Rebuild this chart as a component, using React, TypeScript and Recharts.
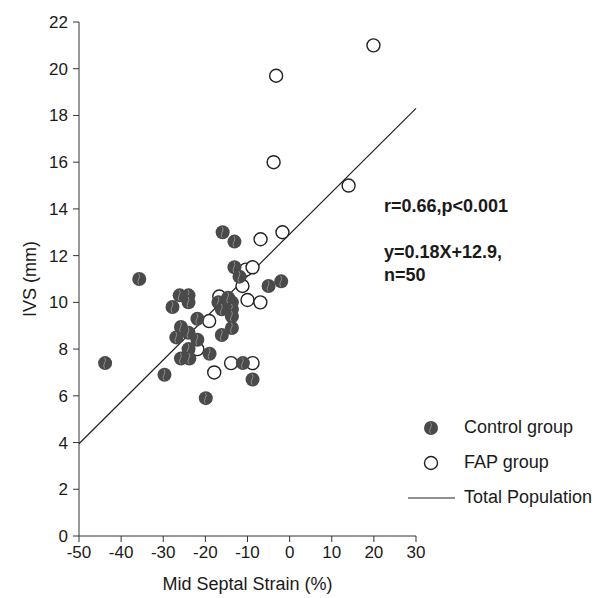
import { ScatterChart, Scatter, XAxis, YAxis } from 'recharts';

const X_TICKS = [-50, -40, -30, -20, -10, 0, 10, 20, 30];
const Y_TICKS = [0, 2, 4, 6, 8, 10, 12, 14, 16, 18, 20, 22];

// Control group (filled markers)
const controlStrain = [
  -15.9, -13.1, -35.7, -13.1, -11.9, -5.0, -2.0, -26.1, -24.0, -24.0, -27.8,
  -16.9, -13.7, -13.7, -16.1, -13.7, -21.9, -25.8, -13.7, -24.0, -26.9, -21.9,
  -16.1, -24.0, -19.0, -25.8, -23.8, -43.8, -11.1, -29.7, -8.8, -19.9, -14.6,
];
const controlIvs = [
  13.0, 12.6, 11.0, 11.5, 11.1, 10.7, 10.9, 10.3, 10.3, 10.0, 9.8,
  10.0, 10.0, 9.7, 9.7, 9.4, 9.3, 8.95, 8.9, 8.7, 8.5, 8.4,
  8.6, 8.0, 7.8, 7.6, 7.6, 7.4, 7.4, 6.9, 6.7, 5.9, 10.2,
];

// FAP group (open markers)
const fapStrain = [
  19.9, -3.2, -3.8, 14.0, -1.7, -6.9, -10.4, -8.8, -11.2, -10.0, -6.95,
  -16.7, -19.1, -21.9, -13.9, -8.8, -17.9,
];
const fapIvs = [
  21.0, 19.7, 16.0, 15.0, 13.0, 12.7, 11.4, 11.5, 10.7, 10.1, 10.0,
  10.25, 9.2, 8.0, 7.4, 7.4, 7.0,
];

// Total population fit line end points
const fitStrain = [-50, 30];
const fitIvs = [3.95, 18.3];

const controlData = controlStrain.map((x, i) => ({ x, y: controlIvs[i] }));
const fapData = fapStrain.map((x, i) => ({ x, y: fapIvs[i] }));
const fitData = fitStrain.map((x, i) => ({ x, y: fitIvs[i] }));

const FONT = '"Liberation Sans", Arial, sans-serif';
const TEXT = '#1a1a1a';

const ControlDot = (p: any) => (
  <g>
    <circle cx={p.cx} cy={p.cy} r={7} fill="#4a4a4a" />
    <path
      d={`M${p.cx - 0.5} ${p.cy - 5.5} q2 2.7 0 5.5 q-2 2.7 0 5.5`}
      stroke="#8c8c8c"
      strokeWidth={1}
      fill="none"
    />
  </g>
);

const FapDot = (p: any) => (
  <circle cx={p.cx} cy={p.cy} r={6.5} fill="#fff" stroke="#222" strokeWidth={1.4} />
);

const LegendBox = () => (
  <div style={{ position: 'absolute', left: 400, top: 409, width: 192, height: 100, fontFamily: FONT, fontSize: 18, color: TEXT }}>
    <div style={{ position: 'absolute', left: 0, top: 0, width: 192, height: 22 }}>
      <svg width={60} height={22} style={{ position: 'absolute', left: 0, top: 0 }}>
        <ControlDot cx={23} cy={11} />
      </svg>
      <span style={{ position: 'absolute', left: 56, top: 0 }}>Control group</span>
    </div>
    <div style={{ position: 'absolute', left: 0, top: 35, width: 192, height: 22 }}>
      <svg width={60} height={22} style={{ position: 'absolute', left: 0, top: 0 }}>
        <FapDot cx={23} cy={11} />
      </svg>
      <span style={{ position: 'absolute', left: 56, top: 0 }}>FAP group</span>
    </div>
    <div style={{ position: 'absolute', left: 0, top: 70, width: 192, height: 22 }}>
      <svg width={60} height={22} style={{ position: 'absolute', left: 0, top: 0 }}>
        <line x1={0} x2={47} y1={11} y2={11} stroke="#222" strokeWidth={1.2} />
      </svg>
      <span style={{ position: 'absolute', left: 56, top: 0 }}>Total Population</span>
    </div>
  </div>
);

export default function App() {
  return (
    <div style={{ position: 'relative', width: 592, height: 590 }}>
      <ScatterChart width={592} height={590} margin={{ top: 14, right: 184, bottom: 0, left: 0 }}>
        <XAxis
          type="number"
          dataKey="x"
          domain={[-50, 30]}
          ticks={X_TICKS}
          height={62}
          stroke="#333"
          tickSize={6}
          tickMargin={4}
          tick={{ fontSize: 17, fill: TEXT, fontFamily: FONT }}
          label={{ value: 'Mid Septal Strain (%)', position: 'insideBottom', offset: 8, fontSize: 18, fill: TEXT, fontFamily: FONT }}
        />
        <YAxis
          type="number"
          dataKey="y"
          domain={[0, 22]}
          ticks={Y_TICKS}
          width={71}
          stroke="#333"
          tickSize={6}
          tickMargin={5}
          tick={{ fontSize: 17, fill: TEXT, fontFamily: FONT }}
          label={{
            content: ({ viewBox }: any) => {
              const cy = viewBox.y + viewBox.height / 2;
              return (
                <text
                  x={22}
                  y={cy}
                  transform={`rotate(-90, 22, ${cy})`}
                  textAnchor="middle"
                  dominantBaseline="central"
                  fontSize={18}
                  fill={TEXT}
                  fontFamily={FONT}
                >
                  IVS (mm)
                </text>
              );
            },
          }}
        />
        <Scatter
          name="Total Population"
          data={fitData}
          line={{ stroke: '#222', strokeWidth: 1.2 }}
          shape={() => <g />}
          isAnimationActive={false}
        />
        <Scatter name="FAP group" data={fapData} shape={FapDot} isAnimationActive={false} />
        <Scatter name="Control group" data={controlData} shape={ControlDot} isAnimationActive={false} />
      </ScatterChart>
      <LegendBox />
      <div
        style={{
          position: 'absolute',
          left: 376,
          top: 187,
          fontFamily: FONT,
          fontSize: 18,
          fontWeight: 'bold',
          color: TEXT,
          lineHeight: '23px',
          whiteSpace: 'nowrap',
        }}
      >
        <div>r=0.66,p&lt;0.001</div>
        <div style={{ marginTop: 23 }}>y=0.18X+12.9,</div>
        <div>n=50</div>
      </div>
    </div>
  );
}
